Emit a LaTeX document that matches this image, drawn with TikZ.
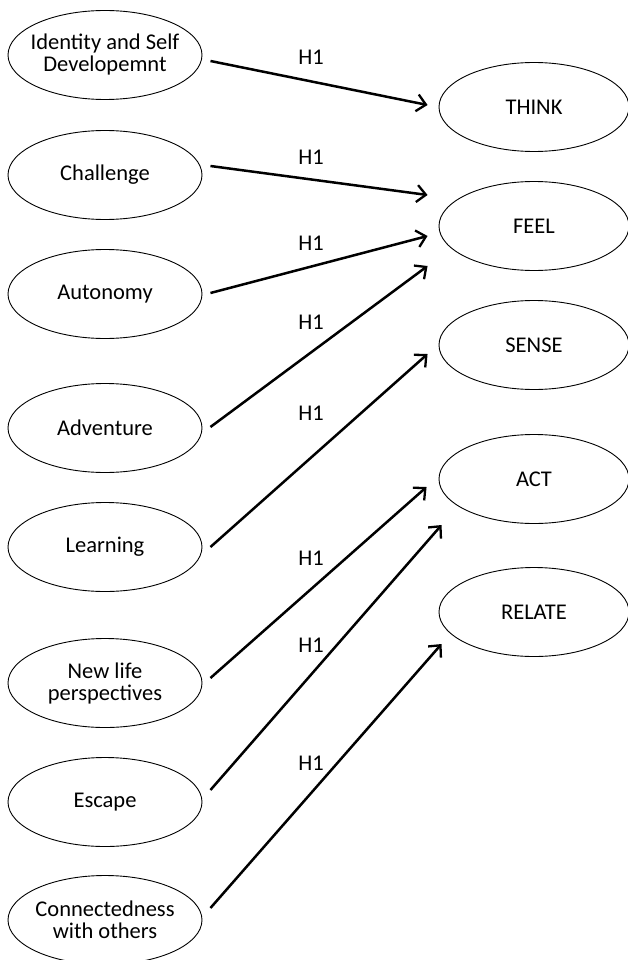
\documentclass[tikz,border=0pt]{standalone}
\usepackage{fontspec}
\setmainfont{Carlito}
\usetikzlibrary{shapes.geometric,arrows.meta}
\begin{document}
\begin{tikzpicture}[x=1pt,y=-1pt,
  oval/.style={ellipse,draw,line width=0.9pt,minimum width=194pt,minimum height=89pt,inner sep=-12pt,align=center,font=\fontsize{22.5}{22}\selectfont},
  roval/.style={oval,minimum width=190pt},
  hlab/.style={font=\fontsize{22.5}{22}\selectfont,inner sep=0pt},
  arr/.style={line width=2.5pt,-{Straight Barb[length=9pt,width=17pt,line width=2.3pt]}}]
\useasboundingbox (0,0) rectangle (627,960);
% left
\node[oval] (id) at (105,55) {Identity and Self\\Developemnt};
\node[oval] (ch) at (105,175) {Challenge};
\node[oval] (au) at (105,294) {Autonomy};
\node[oval] (ad) at (105,428) {Adventure};
\node[oval] (le) at (105,547) {Learning};
\node[oval] (nl) at (105,683) {New life\\perspectives};
\node[oval] (es) at (105,802) {Escape};
\node[oval] (co) at (105,920) {Connectedness\\with others};
% right
\node[roval] (th) at (534,107) {THINK};
\node[roval] (fe) at (534,226) {FEEL};
\node[roval] (se) at (534,345) {SENSE};
\node[roval] (ac) at (534,479) {ACT};
\node[roval] (re) at (534,612) {RELATE};
% arrows
\draw[arr] ([shift={(8,6)}]id.east) -- ([shift={(-11,-2)}]th.west);
\draw[arr] ([shift={(8,-9)}]ch.east) -- ([shift={(-11,-31)}]fe.west);
\draw[arr] ([shift={(8,-1)}]au.east) -- ([shift={(-11,10)}]fe.west);
\draw[arr] ([shift={(8,-1)}]ad.east) -- ([shift={(-11,40)}]fe.west);
\draw[arr] ([shift={(8,0)}]le.east) -- ([shift={(-11,9)}]se.west);
\draw[arr] ([shift={(8,-5)}]nl.east) -- ([shift={(-12,8)}]ac.west);
\draw[arr] ([shift={(8,-12)}]es.east) -- ([shift={(3,46)}]ac.west);
\draw[arr] ([shift={(8,-12)}]co.east) -- ([shift={(3,32)}]re.west);
% labels
\node[hlab] (h1) at (311,57) {H1};
\node[hlab] (h2) at (311,157) {H1};
\node[hlab] (h3) at (311,243) {H1};
\node[hlab] (h4) at (311,322) {H1};
\node[hlab] (h5) at (311,413) {H1};
\node[hlab] (h6) at (311,558) {H1};
\node[hlab] (h7) at (311,645) {H1};
\node[hlab] (h8) at (311,763) {H1};
\end{tikzpicture}
\end{document}
